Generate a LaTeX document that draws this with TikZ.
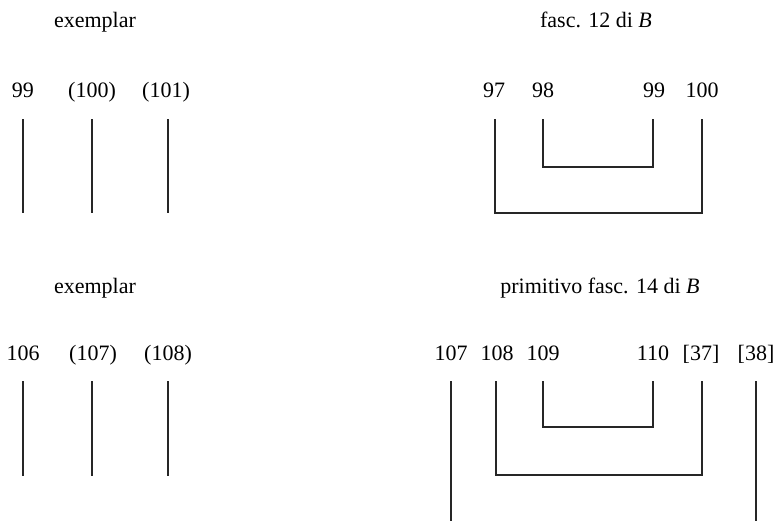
\documentclass[tikz,border=0pt]{standalone}
\usepackage{fontspec}
\setmainfont{Liberation Serif}
\begin{document}
\begin{tikzpicture}[x=1pt,y=-1pt,
  every node/.style={font=\fontsize{22}{26}\selectfont, inner sep=0pt, anchor=base},
  rule/.style={line width=1.3pt, black!85}]
\useasboundingbox (0,0) rectangle (773,520);

% --- upper left: exemplar 99--101
\node (t1) at (95,27) {exemplar};
\node (a99)  at (23,97)  {99};
\node (a100) at (92,97)  {(100)};
\node (a101) at (166,97) {(101)};
\foreach \n/\x in {a99/23, a100/92, a101/168} {
  \coordinate (\n-t) at (\x,119);
  \coordinate (\n-b) at (\x,213);
  \draw[rule] (\n-t) -- (\n-b);
}

% --- upper right: fasc. 12 di B
\node (t2) at (596,27) {fasc. 12 di \textit{B}};
\node (b97)  at (494,97) {97};
\node (b98)  at (543,97) {98};
\node (b99)  at (654,97) {99};
\node (b100) at (702,97) {100};
\coordinate (b97-t) at (495,119);
\coordinate (b98-t) at (543,119);
\coordinate (b99-t) at (653,119);
\coordinate (b100-t) at (702,119);
\draw[rule] (b98-t) |- (598,167) -| (b99-t);
\draw[rule] (b97-t) |- (598,213) -| (b100-t);

% --- lower left: exemplar 106--108
\node (t3) at (95,293) {exemplar};
\node (c106) at (23,360)  {106};
\node (c107) at (93,360)  {(107)};
\node (c108) at (168,360) {(108)};
\foreach \n/\x in {c106/23, c107/92, c108/168} {
  \coordinate (\n-t) at (\x,381);
  \coordinate (\n-b) at (\x,476);
  \draw[rule] (\n-t) -- (\n-b);
}

% --- lower right: primitivo fasc. 14 di B
\node (t4) at (600,293) {primitivo fasc. 14 di \textit{B}};
\node (d107) at (451,360) {107};
\node (d108) at (497,360) {108};
\node (d109) at (543,360) {109};
\node (d110) at (653,360) {110};
\node (d37)  at (701,360) {[37]};
\node (d38)  at (756,360) {[38]};
\coordinate (d107-t) at (451,381);
\coordinate (d108-t) at (496,381);
\coordinate (d109-t) at (543,381);
\coordinate (d110-t) at (653,381);
\coordinate (d37-t)  at (702,381);
\coordinate (d38-t)  at (756,381);
\draw[rule] (d109-t) |- (598,427) -| (d110-t);
\draw[rule] (d108-t) |- (598,475) -| (d37-t);
% outer bracket runs on below the lower edge of the page
\draw[rule] (d107-t) |- (600,528) -| (d38-t);
\end{tikzpicture}
\end{document}
